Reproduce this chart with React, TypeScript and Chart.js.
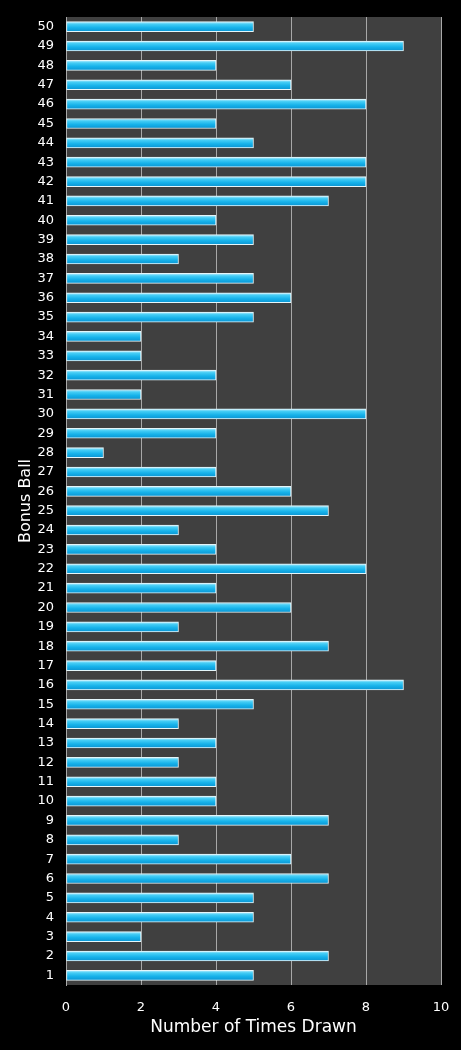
import React, { useEffect, useRef } from "react";
import { Chart, registerables } from "chart.js";

Chart.register(...registerables);

const categories: string[] = Array.from({ length: 50 }, (_, i) => String(i + 1));

// Values for balls 1..50 (bottom to top)
const timesDrawn: number[] = [
  5, 7, 2, 5, 5, 7, 6, 3, 7, 4,
  4, 3, 4, 3, 5, 9, 4, 7, 3, 6,
  4, 8, 4, 3, 7, 6, 4, 1, 4, 8,
  2, 4, 2, 2, 5, 6, 5, 3, 5, 4,
  7, 8, 8, 5, 4, 8, 6, 4, 9, 5,
];

const xTitle = "Number of Times Drawn";
const yTitle = "Bonus Ball";

const FONT = "'DejaVu Sans', Verdana, sans-serif";

export default function App() {
  const ref = useRef<HTMLCanvasElement | null>(null);

  useEffect(() => {
    document.body.style.margin = "0";
    document.body.style.background = "#000";
    const canvas = ref.current;
    if (!canvas) return;

    const plotBg = {
      id: "plotBg",
      beforeDraw(chart: any) {
        const { ctx, chartArea } = chart;
        ctx.save();
        ctx.fillStyle = "#000";
        ctx.fillRect(0, 0, chart.width, chart.height);
        ctx.fillStyle = "#404040";
        ctx.fillRect(chartArea.left, chartArea.top, chartArea.right - chartArea.left, chartArea.bottom - chartArea.top);
        ctx.restore();
      },
    };

    const chart = new Chart(canvas, {
      type: "bar",
      data: {
        labels: categories,
        datasets: [
          {
            data: timesDrawn,
            backgroundColor: (c: any) => {
              const ch = c.chart;
              const y = ch.scales?.y;
              if (!y || c.dataIndex === undefined) return "#18b4ea";
              const py = y.getPixelForValue(c.dataIndex);
              if (!Number.isFinite(py)) return "#18b4ea";
              const g = ch.ctx.createLinearGradient(0, py - 5, 0, py + 5);
              g.addColorStop(0, "#bfefff");
              g.addColorStop(0.25, "#45cdf5");
              g.addColorStop(0.6, "#16b2ea");
              g.addColorStop(1, "#0b94d2");
              return g;
            },
            borderColor: "#e4f6fa",
            borderWidth: 1,
            borderSkipped: false,
            barThickness: 10,
          },
        ],
      },
      options: {
        indexAxis: "y",
        animation: false,
        responsive: false,
        devicePixelRatio: 1,
        layout: { padding: { left: 0, right: 20, top: 17, bottom: 0 } },
        plugins: {
          legend: { display: false },
          tooltip: { enabled: false },
        },
        scales: {
          x: {
            min: 0,
            max: 10,
            ticks: {
              stepSize: 2,
              color: "#ffffff",
              font: { family: FONT, size: 13 },
              padding: 15,
            },
            grid: {
              color: "#a8a8a8",
              lineWidth: 1,
              drawTicks: false,
            },
            border: { display: false },
            title: {
              display: true,
              text: xTitle,
              color: "#ffffff",
              font: { family: FONT, size: 17 },
              padding: { top: 0, bottom: 12 },
            },
            afterFit: (s: any) => {
              s.height = 65;
              s.paddingLeft = 0;
              s.paddingRight = 0;
            },
          },
          y: {
            reverse: true,
            ticks: {
              color: "#ffffff",
              font: { family: FONT, size: 13 },
              padding: 12,
              autoSkip: false,
            },
            grid: { display: false, drawTicks: false },
            border: { display: true, color: "#a8a8a8", width: 1 },
            title: {
              display: true,
              text: yTitle,
              color: "#ffffff",
              font: { family: FONT, size: 16 },
              padding: { top: 16, bottom: 0 },
            },
            afterFit: (s: any) => {
              s.width = 66;
              s.paddingTop = 0;
              s.paddingBottom = 0;
            },
          },
        },
      },
      plugins: [plotBg],
    } as any);

    return () => chart.destroy();
  }, []);

  return (
    <div style={{ width: 461, height: 1050, background: "#000" }}>
      <canvas ref={ref} width={461} height={1050} style={{ display: "block" }} />
    </div>
  );
}
